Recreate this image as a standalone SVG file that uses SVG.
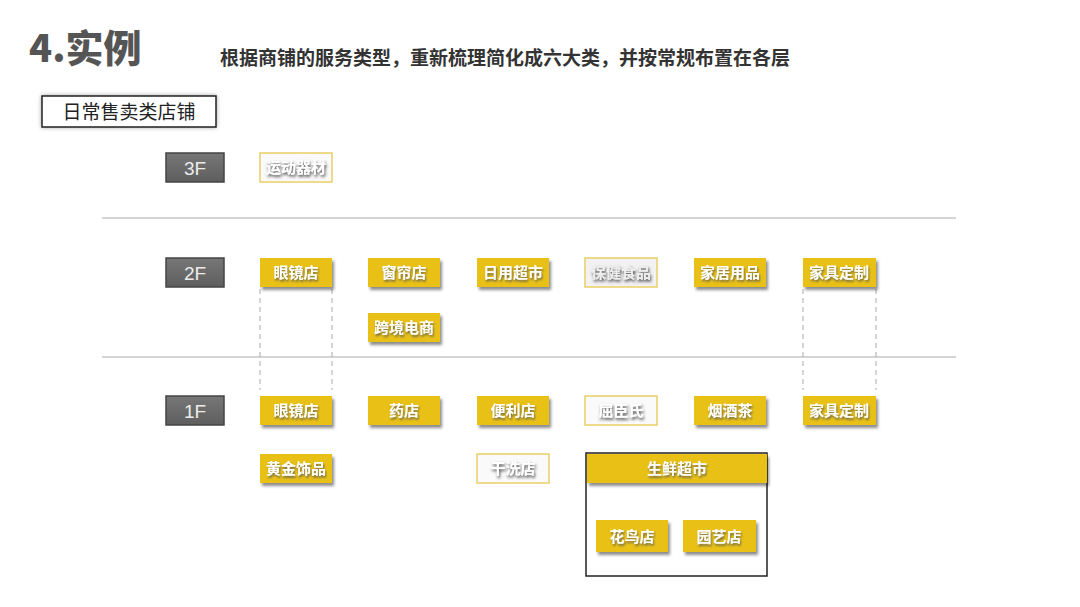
<svg xmlns="http://www.w3.org/2000/svg" width="1080" height="607" viewBox="0 0 1080 607">
<defs>
<filter id="sh" x="-20%" y="-20%" width="150%" height="160%">
<feGaussianBlur in="SourceAlpha" stdDeviation="1.5"/>
<feOffset dx="2" dy="2.5" result="b"/>
<feFlood flood-color="#000" flood-opacity="0.45"/>
<feComposite in2="b" operator="in"/>
<feMerge><feMergeNode/><feMergeNode in="SourceGraphic"/></feMerge>
</filter>
<filter id="tsh" x="-20%" y="-30%" width="150%" height="170%">
<feGaussianBlur in="SourceAlpha" stdDeviation="1.2"/>
<feOffset dx="1" dy="1.5" result="b"/>
<feFlood flood-color="#555" flood-opacity="0.8"/>
<feComposite in2="b" operator="in"/>
<feMerge><feMergeNode/><feMergeNode in="SourceGraphic"/></feMerge>
</filter>
<filter id="tsh2" x="-20%" y="-30%" width="150%" height="170%">
<feGaussianBlur in="SourceAlpha" stdDeviation="1.5"/>
<feOffset dx="1" dy="2" result="b"/>
<feFlood flood-color="#333" flood-opacity="0.9"/>
<feComposite in2="b" operator="in"/>
<feMerge><feMergeNode/><feMergeNode in="SourceGraphic"/></feMerge>
</filter>
<filter id="glow" x="-20%" y="-40%" width="140%" height="180%">
<feGaussianBlur in="SourceAlpha" stdDeviation="3"/>
<feFlood flood-color="#000" flood-opacity="0.35"/>
<feComposite operator="in" in2="SourceAlpha"/>
<feGaussianBlur stdDeviation="2"/>
<feMerge><feMergeNode/><feMergeNode in="SourceGraphic"/></feMerge>
</filter>
<linearGradient id="fg" x1="0" y1="0" x2="0" y2="1">
<stop offset="0" stop-color="#777"/><stop offset="1" stop-color="#5e5e5e"/>
</linearGradient>
</defs>
<style>
text{font-family:"Noto Sans CJK SC","Liberation Sans",sans-serif;}
.y rect{fill:#E9C118;filter:url(#sh);}
.y text{fill:#fff;font-size:15px;font-weight:bold;text-anchor:middle;filter:url(#tsh);}
.w rect{fill:#fafafa;stroke:#E8D066;stroke-width:1.5;}
.w text{fill:#fff;font-size:15px;font-weight:bold;text-anchor:middle;filter:url(#tsh2);}
.fl rect{fill:url(#fg);stroke:#444;stroke-width:1.5;}
.fl text{fill:#ececec;font-family:"Liberation Sans",sans-serif;font-size:19px;text-anchor:middle;}
.hl{stroke:#aaa;stroke-width:1;}
.dl{stroke:#aaa;stroke-width:1;stroke-dasharray:5,4;}
</style>
<rect width="1080" height="607" fill="#fff"/>
<g id="title">
<text x="29" y="62" font-size="38" font-weight="900" fill="#555">4.实例</text>
<text x="220" y="65" font-size="19" font-weight="bold" fill="#333">根据商铺的服务类型，重新梳理简化成六大类，并按常规布置在各层</text>
</g>
<g id="category">
<rect x="42" y="96" width="174" height="31" fill="#fff" stroke="#222" stroke-width="1.5" filter="url(#glow)"/>
<text x="129" y="119" font-size="19" fill="#222" text-anchor="middle">日常售卖类店铺</text>
</g>
<g id="connectors">
<line class="hl" x1="102" y1="218" x2="956" y2="218"/>
<line class="hl" x1="102" y1="357" x2="956" y2="357"/>
<line class="dl" x1="260" y1="289" x2="260" y2="390"/>
<line class="dl" x1="332" y1="289" x2="332" y2="390"/>
<line class="dl" x1="803" y1="289" x2="803" y2="390"/>
<line class="dl" x1="876" y1="289" x2="876" y2="390"/>
</g>
<g id="f3" class="fl"><rect x="166" y="153" width="58" height="29"/><text x="195" y="175">3F</text></g>
<g id="f2" class="fl"><rect x="166" y="258" width="58" height="29"/><text x="195" y="280">2F</text></g>
<g id="f1" class="fl"><rect x="166" y="396" width="58" height="29"/><text x="195" y="418">1F</text></g>

<g id="n3-sport" class="w"><rect x="260" y="153" width="72" height="29"/><text x="296" y="173">运动器材</text></g>

<g id="n2-glasses" class="y"><rect x="260" y="258" width="72" height="29"/><text x="296" y="278">眼镜店</text></g>
<g id="n2-curtain" class="y"><rect x="368" y="258" width="72" height="29"/><text x="404" y="278">窗帘店</text></g>
<g id="n2-daily" class="y"><rect x="477" y="258" width="72" height="29"/><text x="513" y="278">日用超市</text></g>
<g id="n2-health" class="w"><rect x="585" y="258" width="72" height="29" style="fill:#f2f2f2"/><text x="621" y="278" style="fill:#eee">保健食品</text></g>
<g id="n2-home" class="y"><rect x="694" y="258" width="72" height="29"/><text x="730" y="278">家居用品</text></g>
<g id="n2-furn" class="y"><rect x="803" y="258" width="73" height="29"/><text x="839" y="278">家具定制</text></g>
<g id="n2-cross" class="y"><rect x="368" y="313" width="72" height="29"/><text x="404" y="333">跨境电商</text></g>

<g id="n1-glasses" class="y"><rect x="260" y="396" width="72" height="29"/><text x="296" y="416">眼镜店</text></g>
<g id="n1-pharm" class="y"><rect x="368" y="396" width="72" height="29"/><text x="404" y="416">药店</text></g>
<g id="n1-conv" class="y"><rect x="477" y="396" width="72" height="29"/><text x="513" y="416">便利店</text></g>
<g id="n1-watsons" class="w"><rect x="585" y="396" width="72" height="29"/><text x="621" y="416">屈臣氏</text></g>
<g id="n1-tobacco" class="y"><rect x="694" y="396" width="72" height="29"/><text x="730" y="416">烟酒茶</text></g>
<g id="n1-furn" class="y"><rect x="803" y="396" width="73" height="29"/><text x="839" y="416">家具定制</text></g>
<g id="n1-gold" class="y"><rect x="260" y="454" width="72" height="29"/><text x="296" y="474">黄金饰品</text></g>
<g id="n1-laundry" class="w"><rect x="477" y="454" width="72" height="29"/><text x="513" y="474">干洗店</text></g>

<g id="n1-fresh">
<rect x="586" y="453" width="181" height="123" fill="#fff" stroke="#222" stroke-width="1.5"/>
<g class="y"><rect x="587" y="454" width="180" height="29"/><text x="677" y="474">生鲜超市</text></g>
</g>
<g id="n1-flower" class="y"><rect x="596" y="520" width="72" height="32"/><text x="632" y="542">花鸟店</text></g>
<g id="n1-garden" class="y"><rect x="683" y="520" width="73" height="32"/><text x="719" y="542">园艺店</text></g>
</svg>
